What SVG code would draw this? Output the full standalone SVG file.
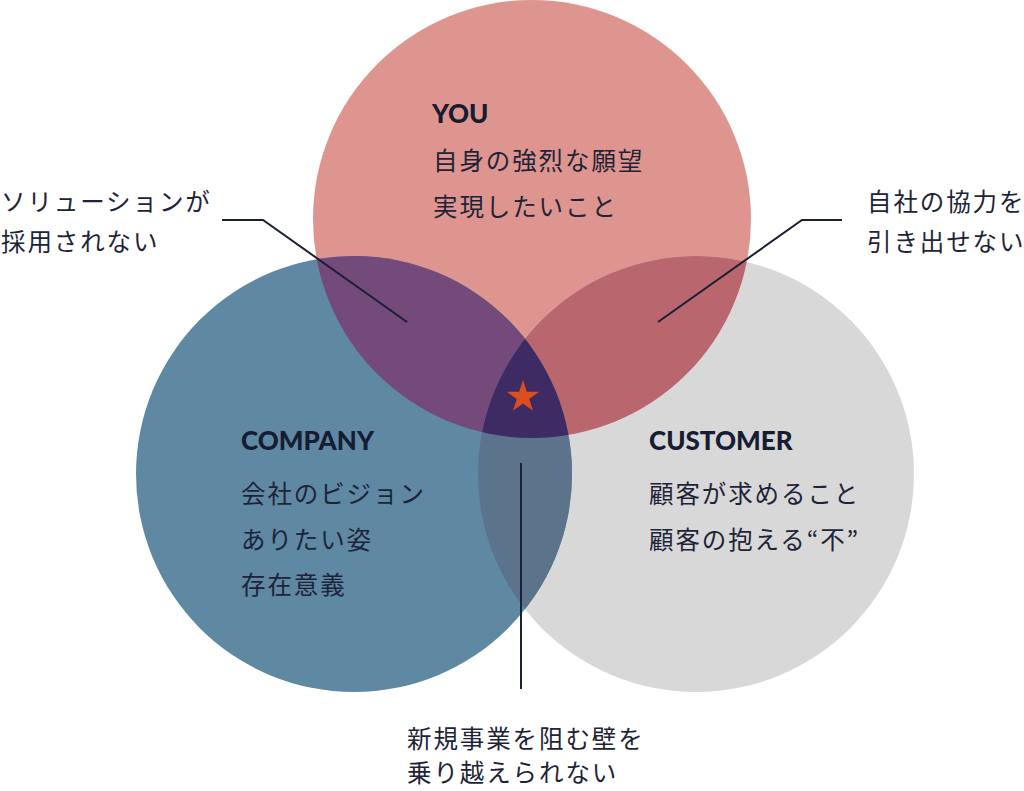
<svg xmlns="http://www.w3.org/2000/svg" width="1024" height="791" viewBox="0 0 1024 791">
<style>
.h{font-family:Lato,"Liberation Sans",sans-serif;font-weight:900;font-size:26px;fill:#161c31}
.j{font-family:"Noto Sans CJK JP","Noto Sans",sans-serif;font-size:24.5px;letter-spacing:1.9px;fill:#1e2438}
.ld{fill:none;stroke:#1a2036;stroke-width:2}
</style>
<defs>
<clipPath id="cYou"><circle cx="532" cy="219" r="219"/></clipPath>
<clipPath id="cCom"><circle cx="354" cy="474" r="218"/></clipPath>
<clipPath id="cCus"><circle cx="696" cy="474" r="218"/></clipPath>
</defs>
<rect width="1024" height="791" fill="#ffffff"/>
<g id="you-circle"><circle cx="532" cy="219" r="219" fill="#de9590"/></g>
<g id="customer-circle"><circle cx="696" cy="474" r="218" fill="#d8d8d8"/></g>
<g id="company-circle"><circle cx="354" cy="474" r="218" fill="#5f88a3"/></g>
<g id="overlaps">
<g clip-path="url(#cYou)"><circle cx="354" cy="474" r="218" fill="#744a7a"/></g>
<g clip-path="url(#cYou)"><circle cx="696" cy="474" r="218" fill="#b9666e"/></g>
<g clip-path="url(#cCom)"><circle cx="696" cy="474" r="218" fill="#5b748b"/></g>
<g clip-path="url(#cYou)"><g clip-path="url(#cCom)"><circle cx="696" cy="474" r="218" fill="#3e2b64"/></g></g>
</g>
<g id="star"><polygon points="523,380 526.8,391.7 539.2,391.8 529.2,399 533,410.8 523,403.5 513,410.8 516.8,399 506.8,391.8 519.2,391.7" fill="#db4f1e"/></g>
<g id="connectors">
<polyline class="ld" points="222,220 263,220 407,322"/>
<polyline class="ld" points="842,220 802,220 658,322"/>
<line class="ld" x1="521" y1="463" x2="521" y2="689"/>
</g>
<g id="you-label">
<text class="h" x="432" y="123">YOU</text>
<text class="j" x="433" y="170">自身の強烈な願望</text>
<text class="j" x="433" y="216">実現したいこと</text>
</g>
<g id="company-label">
<text class="h" x="241" y="450">COMPANY</text>
<text class="j" x="241" y="503">会社のビジョン</text>
<text class="j" x="241" y="549">ありたい姿</text>
<text class="j" x="241" y="594">存在意義</text>
</g>
<g id="customer-label">
<text class="h" x="649" y="450">CUSTOMER</text>
<text class="j" x="649" y="503">顧客が求めること</text>
<text class="j" x="649" y="549">顧客の抱える“不”</text>
</g>
<g id="note-left">
<text class="j" x="1" y="211">ソリューションが</text>
<text class="j" x="1" y="251">採用されない</text>
</g>
<g id="note-right">
<text class="j" x="867" y="211" letter-spacing="0.8">自社の協力を</text>
<text class="j" x="867" y="251" letter-spacing="0.8">引き出せない</text>
</g>
<g id="note-bottom">
<text class="j" x="407" y="748">新規事業を阻む壁を</text>
<text class="j" x="407" y="782">乗り越えられない</text>
</g>
</svg>
